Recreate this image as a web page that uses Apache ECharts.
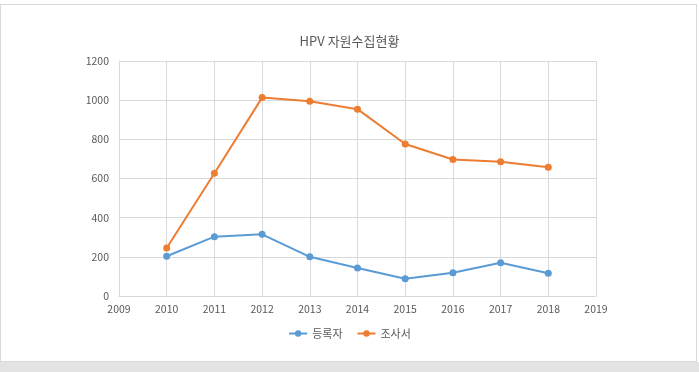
<!DOCTYPE html>
<html><head><meta charset="utf-8">
<script src="https://cdn.jsdelivr.net/npm/echarts@6/dist/echarts.min.js"></script>
<style>
html,body{margin:0;padding:0;background:#fff;}
#frame{position:absolute;left:0;top:4px;width:697px;height:358px;border:1px solid #d9d9d9;box-sizing:border-box;}
#band{position:absolute;left:0;top:362px;width:699px;height:10px;background:#e3e3e3;}
#chart{position:absolute;left:0;top:0;width:699px;height:372px;}
</style></head>
<body>
<div id="frame"></div><div id="band"></div>
<div id="chart"></div>
<script>
var titleText = 'HPV 자원수집현황';
var years = [2010, 2011, 2012, 2013, 2014, 2015, 2016, 2017, 2018];
var seriesNames = ['등록자', '조사서'];
var registrants = [203, 303, 315, 200, 143, 88, 119, 170, 116];
var surveys = [245, 627, 1013, 994, 954, 776, 697, 686, 658];
var colors = ['#5b9bd5', '#ed7d31'];

var chart = echarts.init(document.getElementById('chart'), null, {renderer:'canvas'});
var font = '"Noto Sans CJK KR", "Noto Sans", sans-serif';
function pairs(vals){ return years.map(function(y,i){ return [y, vals[i]]; }); }
chart.setOption({
  animation:false,
  backgroundColor:'transparent',
  title:{text:titleText, left:'center', top:30, textStyle:{fontFamily:font, fontSize:13, fontWeight:'normal', color:'#595959'}},
  legend:{bottom:28, itemWidth:18, itemHeight:8, itemGap:14,
    textStyle:{fontFamily:font, fontSize:11, color:'#595959'},
    data:seriesNames},
  grid:{left:119, right:103, top:61, bottom:76, containLabel:false},
  xAxis:{type:'value', min:2009, max:2019, interval:1,
    axisLine:{show:true, lineStyle:{color:'#d9d9d9'}}, axisTick:{show:false},
    axisLabel:{color:'#595959', fontFamily:font, fontSize:10.5, margin:8, formatter:function(v){return String(v);}},
    splitLine:{show:true, lineStyle:{color:'#d9d9d9'}}},
  yAxis:{type:'value', min:0, max:1200, interval:200,
    axisLine:{show:true, lineStyle:{color:'#d9d9d9'}}, axisTick:{show:false},
    axisLabel:{color:'#595959', fontFamily:font, fontSize:10.5, margin:10, formatter:function(v){return String(v);}},
    splitLine:{show:true, lineStyle:{color:'#d9d9d9'}}},
  series:[
    {name:seriesNames[0], type:'line', data:pairs(registrants), color:colors[0],
     symbol:'circle', symbolSize:7, lineStyle:{width:2}},
    {name:seriesNames[1], type:'line', data:pairs(surveys), color:colors[1],
     symbol:'circle', symbolSize:7, lineStyle:{width:2}}
  ]
});
</script>
</body></html>
